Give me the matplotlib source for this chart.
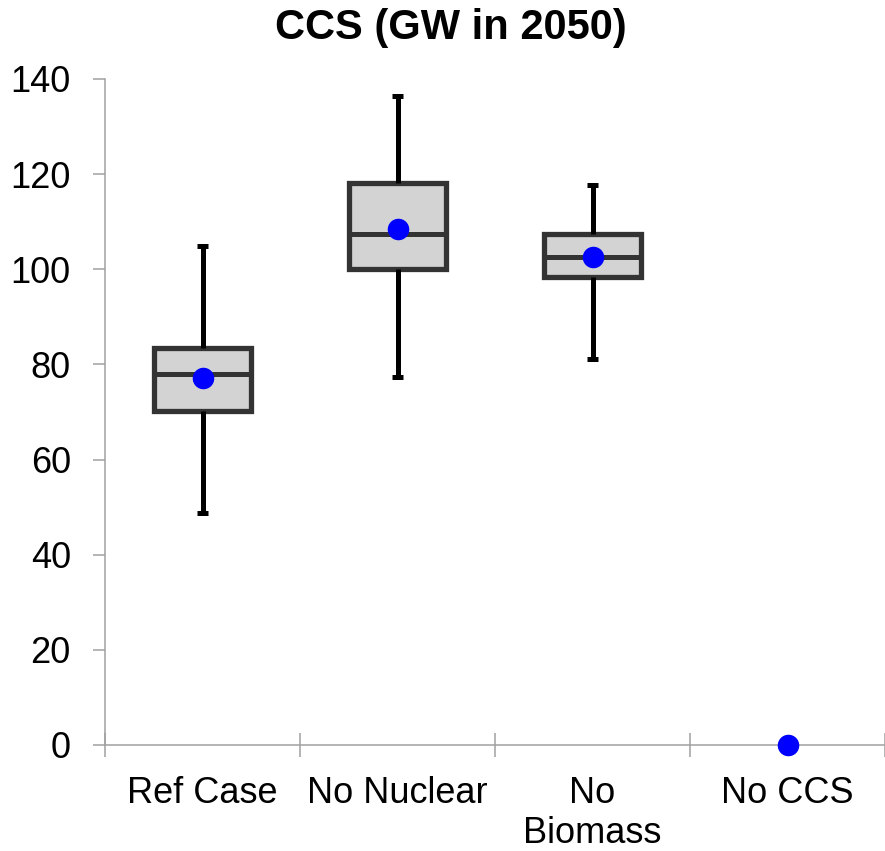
import matplotlib
matplotlib.use("Agg")
import matplotlib.pyplot as plt

plt.rcParams['font.family'] = ['Liberation Sans', 'DejaVu Sans']

# --- Datos (GW en 2050) ---
escenarios = ['Ref Case', 'No Nuclear', 'No\nBiomass', 'No CCS']
bigote_inf = [48.7, 77.4, 81.1]
q1 = [70.2, 100.1, 98.4]
mediana = [77.9, 107.4, 102.6]
q3 = [83.5, 118.2, 107.4]
bigote_sup = [104.9, 136.5, 117.7]
media = [77.2, 108.5, 102.6, 0.0]

gris_eje = '#A0A0A0'

fig = plt.figure(figsize=(8.85, 8.51), dpi=100)
ax = fig.add_axes([105 / 885, 106 / 851, 780 / 885, 666 / 851])

# cajas solo para los tres primeros escenarios
stats = []
for i in range(len(q1)):
    stats.append(dict(whislo=bigote_inf[i], q1=q1[i], med=mediana[i],
                      q3=q3[i], whishi=bigote_sup[i], fliers=[]))

ax.bxp(stats, positions=[1, 2, 3], widths=0.5, capwidths=0.06,
       patch_artist=True, showfliers=False,
       boxprops=dict(facecolor='#D3D3D3', edgecolor='#333333', linewidth=3.8),
       medianprops=dict(color='#333333', linewidth=3.6),
       whiskerprops=dict(color='black', linewidth=3.6, solid_capstyle='butt'),
       capprops=dict(color='black', linewidth=3.6, solid_capstyle='butt'))

# medias (punto azul)
ax.plot(range(1, len(media) + 1), media, 'o', color='#0000FF',
        markersize=14.5, zorder=5, clip_on=False)

ax.set_xlim(0.5, 4.5)
ax.set_ylim(0, 140)
ax.set_yticks(range(0, 141, 20))

# ticks mayores entre categorias, etiquetas en las menores
ax.set_xticks([0.5, 1.5, 2.5, 3.5, 4.5])
ax.set_xticklabels([])
ax.set_xticks([1, 2, 3, 4], minor=True)
ax.set_xticklabels(escenarios, minor=True)

ax.tick_params(axis='x', which='major', direction='inout', length=17,
               width=1.1, color=gris_eje)
ax.tick_params(axis='x', which='minor', length=0, pad=22, labelsize=26)
ax.tick_params(axis='y', direction='out', length=8.6, width=1.1,
               color=gris_eje, pad=16, labelsize=26)

for lado in ['top', 'right']:
    ax.spines[lado].set_visible(False)
for lado in ['left', 'bottom']:
    ax.spines[lado].set_color(gris_eje)
    ax.spines[lado].set_linewidth(1.1)

fig.text(451 / 885, 1 - 28 / 851, 'CCS (GW in 2050)', fontsize=30,
         fontweight='bold', ha='center', va='center')

fig.savefig('out.png', dpi=100)
